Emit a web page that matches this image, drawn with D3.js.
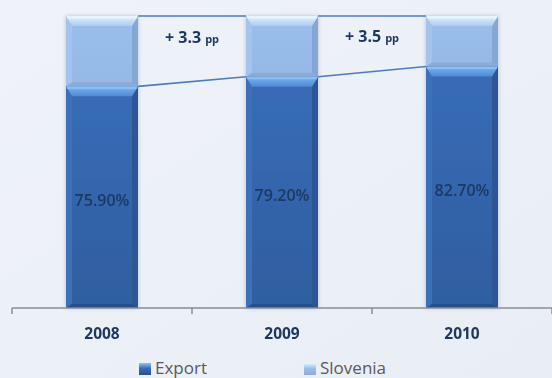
<!DOCTYPE html>
<html>
<head>
<meta charset="utf-8">
<script src="https://cdn.jsdelivr.net/npm/d3@7"></script>
<style>
  html, body { margin: 0; padding: 0; background: #edf1f8; }
  svg { display: block; }
</style>
</head>
<body>
<svg id="chart" width="552" height="378"></svg>
<script>
// Share of sales: export vs. domestic (Slovenia), in percent
const years = ["2008", "2009", "2010"];
const exportShare = [75.9, 79.2, 82.7];
const sloveniaShare = [24.1, 20.8, 17.3];
const changeLabels = ["+ 3.3", "+ 3.5"];
const valueLabels = ["75.90%", "79.20%", "82.70%"];
const legendNames = ["Export", "Slovenia"];

const svg = d3.select("#chart");
const W = 552, H = 378;

const defs = svg.append("defs");
const bg = defs.append("linearGradient").attr("id", "bg").attr("x1", 0).attr("y1", 0).attr("x2", 1).attr("y2", 1);
bg.append("stop").attr("offset", 0).attr("stop-color", "#eff3f9");
bg.append("stop").attr("offset", 1).attr("stop-color", "#e9edf5");
svg.append("rect").attr("width", W).attr("height", H).attr("fill", "url(#bg)");

// bar colour sets: body gradient + bevel shades
const palette = {
  Export:   { top0: "#7ab4f0", top1: "#4d8ad6", body0: "#386cb8", body1: "#2f5e9f", left: "#3b70ba", right: "#2d5794", bottom: "#2a4f86", hl: "#8cc2f5" },
  Slovenia: { top0: "#e2f4ff", top1: "#aacbf2", body0: "#99bfed", body1: "#95b9e7", left: "#a2c4ee", right: "#85a7d3", bottom: "#8fabd0", hl: "#e8f6ff" }
};
Object.entries(palette).forEach(([k, c]) => {
  const g = defs.append("linearGradient").attr("id", "body-" + k).attr("x1", 0).attr("y1", 0).attr("x2", 0).attr("y2", 1);
  g.append("stop").attr("offset", 0).attr("stop-color", c.body0);
  g.append("stop").attr("offset", 1).attr("stop-color", c.body1);
  const t = defs.append("linearGradient").attr("id", "top-" + k).attr("x1", 0).attr("y1", 0).attr("x2", 0).attr("y2", 1);
  t.append("stop").attr("offset", 0).attr("stop-color", c.top0);
  t.append("stop").attr("offset", 1).attr("stop-color", c.top1);
});
const sh = defs.append("filter").attr("id", "shadow").attr("x", "-20%").attr("y", "-5%").attr("width", "140%").attr("height", "110%");
sh.append("feDropShadow").attr("dx", 0).attr("dy", 0).attr("stdDeviation", 2).attr("flood-color", "#7a8596").attr("flood-opacity", 0.45);

const x = d3.scaleBand().domain(years).range([12, 552]).paddingInner(0.6).paddingOuter(0.3);
const y = d3.scaleLinear().domain([0, 100]).range([308, 16]);
const bw = x.bandwidth();

const rows = years.map((yr, i) => ({ year: yr, exp: exportShare[i], slo: sloveniaShare[i] }));

// series lines between neighbouring bars
const lines = svg.append("g").attr("stroke", "#4a7cbd").attr("stroke-width", 1.6).attr("fill", "none");
for (let i = 0; i < rows.length - 1; i++) {
  const x0 = x(rows[i].year) + bw, x1 = x(rows[i + 1].year);
  lines.append("line").attr("x1", x0).attr("x2", x1)
    .attr("y1", y(rows[i].exp + rows[i].slo)).attr("y2", y(rows[i + 1].exp + rows[i + 1].slo));
  lines.append("line").attr("x1", x0).attr("x2", x1)
    .attr("y1", y(rows[i].exp)).attr("y2", y(rows[i + 1].exp));
}

// bevelled segment
function segment(g, x0, y0, w, h, c, key) {
  const t = 10, s = 6, b = 4;
  const s1 = g.append("g");
  s1.append("rect").attr("x", x0).attr("y", y0).attr("width", w).attr("height", h).attr("fill", `url(#body-${key})`);
  s1.append("polygon").attr("fill", c.left)
    .attr("points", [[x0, y0], [x0 + s, y0 + t], [x0 + s, y0 + h - b], [x0, y0 + h]].join(" "));
  s1.append("polygon").attr("fill", c.right)
    .attr("points", [[x0 + w, y0], [x0 + w - s, y0 + t], [x0 + w - s, y0 + h - b], [x0 + w, y0 + h]].join(" "));
  s1.append("polygon").attr("fill", c.bottom)
    .attr("points", [[x0, y0 + h], [x0 + s, y0 + h - b], [x0 + w - s, y0 + h - b], [x0 + w, y0 + h]].join(" "));
  s1.append("polygon").attr("fill", `url(#top-${key})`)
    .attr("points", [[x0, y0], [x0 + w, y0], [x0 + w - s, y0 + t], [x0 + s, y0 + t]].join(" "));
  s1.append("rect").attr("x", x0 + 1).attr("y", y0 + 0.5).attr("width", w - 2).attr("height", 2).attr("fill", c.hl).attr("opacity", 0.9);
}

const bars = svg.append("g").attr("filter", "url(#shadow)");
rows.forEach(d => {
  const g = bars.append("g");
  const x0 = x(d.year);
  segment(g, x0, y(d.exp + d.slo), bw, y(d.exp) - y(d.exp + d.slo), palette.Slovenia, "Slovenia");
  segment(g, x0, y(d.exp), bw, y(0) - y(d.exp), palette.Export, "Export");
});

// value labels in the export segment
svg.append("g").selectAll("text").data(rows).join("text")
  .attr("x", d => x(d.year) + bw / 2)
  .attr("y", d => (y(d.exp) + y(0)) / 2 + 9)
  .attr("text-anchor", "middle")
  .attr("font-family", "'Open Sans', sans-serif")
  .attr("font-weight", 600)
  .attr("font-size", 16)
  .attr("fill", "#1d3960")
  .text((d, i) => valueLabels[i]);

// change annotations between bars
changeLabels.forEach((lab, i) => {
  const cx = (x(years[i]) + bw + x(years[i + 1])) / 2;
  const t = svg.append("text")
    .attr("x", cx).attr("y", 43 - i * 1.5)
    .attr("text-anchor", "middle")
    .attr("font-family", "'Open Sans', sans-serif")
    .attr("font-weight", 700)
    .attr("fill", "#1d3960");
  t.append("tspan").attr("font-size", 16).text(lab);
  t.append("tspan").attr("font-size", 11).attr("dx", 4).text("pp");
});

// category axis
const axisG = svg.append("g").attr("transform", `translate(0,${y(0)})`);
axisG.call(d3.axisBottom(x).tickSize(0).tickPadding(20))
  .call(g => g.select(".domain").remove())
  .call(g => g.selectAll("text")
    .attr("font-family", "'Open Sans', sans-serif")
    .attr("font-weight", 700)
    .attr("font-size", 15.5)
    .attr("fill", "#1d3960"));
const bounds = d3.range(years.length + 1).map(i => x.range()[0] + i * x.step());
axisG.append("line").attr("x1", bounds[0]).attr("x2", bounds[bounds.length - 1])
  .attr("stroke", "#8a8d92").attr("stroke-width", 1.5);
axisG.selectAll(".bound").data(bounds).join("line").attr("class", "bound")
  .attr("x1", d => d).attr("x2", d => d).attr("y1", 0).attr("y2", 6)
  .attr("stroke", "#8a8d92").attr("stroke-width", 1.5);

// legend
const legendX = [139, 304];
const lg = svg.append("g");
legendNames.forEach((name, i) => {
  const c = palette[name];
  const gx = legendX[i];
  const grad = defs.append("linearGradient").attr("id", "lg-" + name).attr("x1", 0).attr("y1", 0).attr("x2", 0).attr("y2", 1);
  grad.append("stop").attr("offset", 0).attr("stop-color", c.hl);
  grad.append("stop").attr("offset", 0.45).attr("stop-color", c.body0);
  grad.append("stop").attr("offset", 1).attr("stop-color", c.bottom);
  lg.append("rect").attr("x", gx).attr("y", 363).attr("width", 12).attr("height", 12).attr("fill", `url(#lg-${name})`);
  lg.append("text").attr("x", gx + 16).attr("y", 374)
    .attr("font-family", "'Open Sans', sans-serif")
    .attr("font-size", 17)
    .attr("fill", "#595959")
    .text(name);
});
</script>
</body>
</html>
